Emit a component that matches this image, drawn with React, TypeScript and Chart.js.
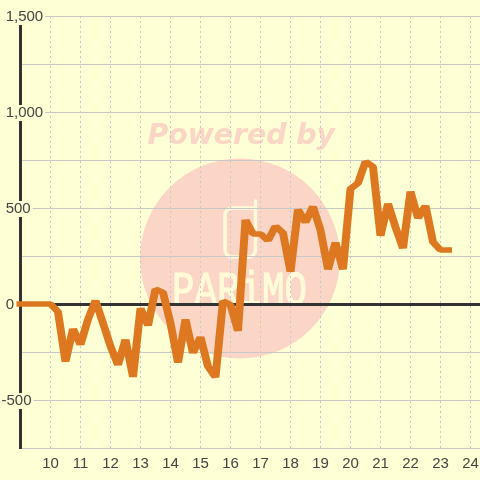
import React, { useEffect, useRef } from "react";
import { Chart, registerables } from "chart.js";

Chart.register(...registerables);

const hours = [9,9.25,9.5,9.75,10,10.25,10.5,10.75,11,11.25,11.5,11.75,12,12.25,12.5,12.75,13,13.25,13.5,13.75,14,14.25,14.5,14.75,15,15.25,15.5,15.75,16,16.25,16.5,16.75,17,17.25,17.5,17.75,18,18.25,18.5,18.75,19,19.25,19.5,19.75,20,20.25,20.5,20.75,21,21.25,21.5,21.75,22,22.25,22.5,22.75,23,23.25];
const values = [0,0,0,0,0,-40,-300,-130,-212,-80,18,-100,-220,-318,-185,-380,-22,-112,78,60,-100,-305,-80,-255,-172,-325,-382,16,-5,-140,438,365,365,330,405,370,168,492,425,508,385,180,320,180,600,630,742,715,355,523,400,290,586,447,512,323,281,281];
const xTicks = [10,11,12,13,14,15,16,17,18,19,20,21,22,23,24];
const yLabelled = [1500,1000,500,0,-500];

const watermark = {
  id: "watermark",
  beforeDraw(chart: any) {
    const c = chart.ctx;
    c.save();
    c.fillStyle = "#FFFFD5";
    c.fillRect(0, 0, 480, 480);
    c.fillStyle = "#FBD5C5";
    c.beginPath();
    c.arc(240, 258.5, 100, 0, Math.PI * 2);
    c.fill();
    c.font = "italic bold 28.3px 'DejaVu Sans'";
    c.textAlign = "left";
    c.textBaseline = "alphabetic";
    c.fillText("Powered by", 147.5, 144);
    c.strokeStyle = "#FFFBD8";
    c.lineWidth = 3.5;
    c.lineCap = "round";
    c.beginPath();
    c.moveTo(254, 208);
    c.lineTo(232, 208);
    c.arcTo(225, 208, 225, 215, 7);
    c.lineTo(225, 250);
    c.arcTo(225, 257, 232, 257, 7);
    c.lineTo(248, 257);
    c.arcTo(255.5, 257, 255.5, 250, 7);
    c.lineTo(255.5, 201);
    c.stroke();
    c.fillStyle = "#FFFBD8";
    c.lineWidth = 0.9;
    c.font = "37.5px 'Liberation Mono'";
    c.translate(0, 305);
    c.scale(1, 1.3);
    c.fillText("PARiMO", 172, 0);
    c.strokeText("PARiMO", 172, 0);
    c.restore();
  },
};

// The reference's pen is wider across than it is tall.
const PEN_X = 1.45;
const widePen = {
  id: "widePen",
  beforeDatasetDraw(chart: any) {
    const c = chart.ctx;
    const orig = c.stroke;
    c.stroke = function (path?: Path2D) {
      c.save();
      c.scale(PEN_X, 1);
      if (path) {
        const p = new Path2D();
        p.addPath(path, new DOMMatrix().scale(1 / PEN_X, 1));
        orig.call(c, p);
      } else {
        orig.call(c);
      }
      c.restore();
    };
  },
  afterDatasetDraw(chart: any) {
    delete chart.ctx.stroke;
  },
};

export default function App() {
  const ref = useRef<HTMLCanvasElement>(null);
  useEffect(() => {
    document.body.style.margin = "0";
    const chart = new Chart(ref.current!, {
      type: "line",
      data: {
        datasets: [
          {
            data: hours.map((h, i) => ({ x: h, y: values[i] })),
            borderColor: "#DE7820",
            borderWidth: 5.5,
            borderCapStyle: "square",
            borderJoinStyle: "bevel",
            pointRadius: 0,
            tension: 0,
            fill: false,
            clip: false,
          },
        ],
      },
      options: {
        responsive: false,
        animation: false,
        devicePixelRatio: 1,
        layout: { padding: { top: 16, left: 0, right: 0, bottom: 0 } },
        plugins: { legend: { display: false }, tooltip: { enabled: false } },
        scales: {
          x: {
            type: "linear",
            min: 9,
            max: 24.317,
            afterBuildTicks: (s: any) => {
              s.ticks = xTicks.map((value) => ({ value }));
            },
            afterFit: (s: any) => {
              s.height = 32;
              s.paddingRight = 0;
              s.paddingLeft = 0;
            },
            border: { display: false, dash: [2, 3] },
            grid: {
              color: "#C8C8C8",
              lineWidth: 1,
              drawTicks: false,
            },
            ticks: {
              color: "#444444",
              font: { family: "'Liberation Sans'", size: 15 },
              padding: 7,
              maxRotation: 0,
              autoSkip: false,
              callback: (v: any) => String(v),
            },
          },
          y: {
            type: "linear",
            min: -750,
            max: 1500,
            afterFit: (s: any) => {
              s.width = 20.5;
            },
            border: { display: true, color: "#333333", width: 3 },
            grid: {
              color: (ctx: any) => (ctx.tick && ctx.tick.value === 0 ? "#333333" : "#C8C8C8"),
              lineWidth: (ctx: any) => (ctx.tick && ctx.tick.value === 0 ? 3 : 1),
              drawTicks: false,
            },
            ticks: {
              stepSize: 250,
              mirror: true,
              padding: -19,
              labelOffset: 1,
              color: "#444444",
              font: { family: "'Liberation Sans'", size: 15, lineHeight: 1.07 },
              showLabelBackdrop: true,
              backdropColor: "#FFFFD5",
              backdropPadding: { top: 0, bottom: 0, left: 0, right: 2 },
              autoSkip: false,
              callback: (v: any) => {
                if (!yLabelled.includes(v)) return "";
                const s = Number(v).toLocaleString("en-US");
                return v < 0 ? s : " " + s;
              },
            },
          },
        },
      },
      plugins: [watermark, widePen],
    } as any);
    return () => chart.destroy();
  }, []);
  return <canvas ref={ref} width={480} height={480} style={{ display: "block" }} />;
}
